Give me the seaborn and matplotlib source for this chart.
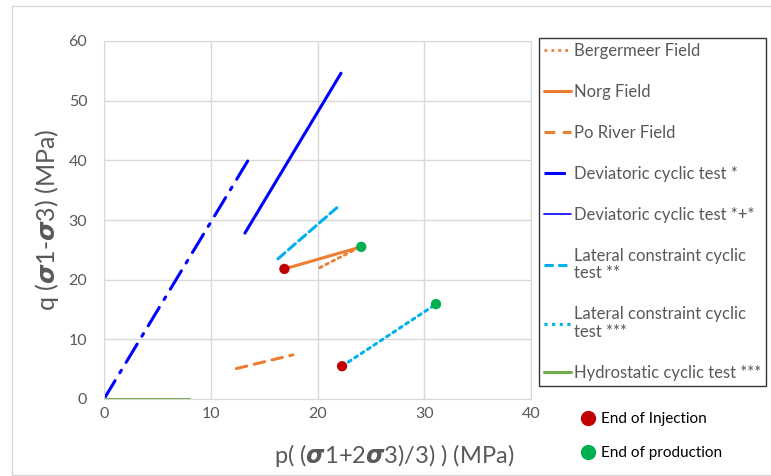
import matplotlib
matplotlib.use("Agg")
import matplotlib.pyplot as plt
import seaborn as sns
import pandas as pd
from matplotlib.lines import Line2D
from matplotlib.patches import Rectangle

# stress paths, p (MPa) and q (MPa)
bergermeer_p = [20.2, 23.7]
bergermeer_q = [22.0, 25.2]
norg_p = [16.9, 24.1]
norg_q = [21.8, 25.5]
po_river_p = [12.4, 17.7]
po_river_q = [5.1, 7.4]
dev_p = [0.0, 13.5]
dev_q = [0.0, 40.0]
dev_plus_p = [13.2, 22.2]
dev_plus_q = [27.8, 54.6]
lat2_p = [16.3, 22.1]
lat2_q = [23.5, 32.5]
lat3_p = [22.3, 31.1]
lat3_q = [5.5, 15.9]
hydro_p = [0.0, 8.0]
hydro_q = [0.0, 0.0]

injection_p = [16.9, 22.3]
injection_q = [21.8, 5.5]
production_p = [24.1, 31.1]
production_q = [25.5, 15.9]

series = [
    ("Bergermeer Field", bergermeer_p, bergermeer_q, "#ED7D31", (0, (1, 1.5)), 2.0),
    ("Norg Field", norg_p, norg_q, "#ED7D31", "-", 2.2),
    ("Po River Field", po_river_p, po_river_q, "#ED7D31", (0, (3.5, 2.5)), 2.2),
    ("Deviatoric cyclic test *", dev_p, dev_q, "#0000FF", (0, (7, 3, 1, 3)), 2.2),
    ("Deviatoric cyclic test *+*", dev_plus_p, dev_plus_q, "#0000FF", "-", 2.2),
    ("Lateral constraint cyclic\ntest **", lat2_p, lat2_q, "#00B0F0", (0, (3, 1.5)), 2.2),
    ("Lateral constraint cyclic\ntest ***", lat3_p, lat3_q, "#00B0F0", (0, (1, 1.5)), 2.2),
    ("Hydrostatic cyclic test ***", hydro_p, hydro_q, "#70AD47", "-", 2.2),
]

sns.set_style("white")
plt.rcParams['font.family'] = ['Lato', 'DejaVu Sans']

fig = plt.figure(figsize=(7.71, 4.76), dpi=100)
ax = fig.add_axes([104 / 771, 1 - 399 / 476, 427 / 771, 358 / 476])

handles = []
for label, px, qy, color, ls, lw in series:
    df = pd.DataFrame({"p": px, "q": qy})
    sns.lineplot(data=df, x="p", y="q", ax=ax, color=color, linewidth=lw,
                 sort=False, estimator=None, legend=False)
    ax.lines[-1].set_linestyle(ls)
    ax.lines[-1].set_solid_capstyle("round")
    ax.lines[-1].set_dash_capstyle("round")
    h_lw = 1.2 if label == "Deviatoric cyclic test *+*" else lw
    handles.append(Line2D([], [], color=color, linestyle=ls, linewidth=h_lw))

pts = pd.DataFrame({
    "p": injection_p + production_p,
    "q": injection_q + production_q,
    "kind": ["End of Injection"] * len(injection_p) + ["End of production"] * len(production_p),
})
sns.scatterplot(data=pts, x="p", y="q", hue="kind", ax=ax, s=55, edgecolor="none",
                palette={"End of Injection": "#C00000", "End of production": "#00B050"},
                legend=False, zorder=5, clip_on=False)

ax.set_xlim(0, 40)
ax.set_ylim(0, 60)
ax.set_xticks(range(0, 41, 10))
ax.set_yticks(range(0, 61, 10))
ax.grid(True, color="#D9D9D9", linewidth=1.0)
ax.set_axisbelow(True)
for s in ax.spines.values():
    s.set_color("#D9D9D9")
ax.tick_params(axis="both", length=0, labelsize=11.5, labelcolor="#595959")
ax.tick_params(axis="y", pad=12)
ax.tick_params(axis="x", pad=6)

ax.set_xlabel(r"p( (${\boldsymbol{\sigma}}$1+2${\boldsymbol{\sigma}}$3)/3) ) (MPa)",
              fontsize=17, color="#595959")
ax.set_ylabel(r"q (${\boldsymbol{\sigma}}$1-${\boldsymbol{\sigma}}$3) (MPa)",
              fontsize=18, color="#595959")
ax.xaxis.set_label_coords(0.68, -0.12)
ax.yaxis.set_label_coords(-0.1, 0.5)

leg = ax.legend(handles, [s[0] for s in series], loc="upper left",
                bbox_to_anchor=(539 / 771, 1 - 38 / 476), bbox_transform=fig.transFigure,
                frameon=True, fancybox=False, edgecolor="black", fontsize=12,
                labelcolor="#595959", handlelength=1.6, handletextpad=0.2,
                labelspacing=1.5, borderaxespad=0, borderpad=0.3)
for t in leg.get_texts():
    t.set_linespacing(1.1)
leg.get_frame().set_linewidth(1.0)
leg.set_clip_on(False)
ax.add_artist(leg)

mk_handles = [Line2D([], [], marker="o", linestyle="", color="#C00000", markersize=10),
              Line2D([], [], marker="o", linestyle="", color="#00B050", markersize=10)]
ax.legend(mk_handles, ["End of Injection", "End of production"], loc="upper left",
          bbox_to_anchor=(580 / 771, 1 - 412 / 476), bbox_transform=fig.transFigure,
          frameon=False, fontsize=11, labelcolor="black", handletextpad=0.4,
          labelspacing=1.3, borderaxespad=0, borderpad=0, handlelength=1.0)

fig.patches.append(Rectangle((12 / 771, 1 / 476), 1.0, 469 / 476, transform=fig.transFigure,
                             fill=False, edgecolor="#D9D9D9", linewidth=1.0))

fig.savefig("out.png", dpi=100)
